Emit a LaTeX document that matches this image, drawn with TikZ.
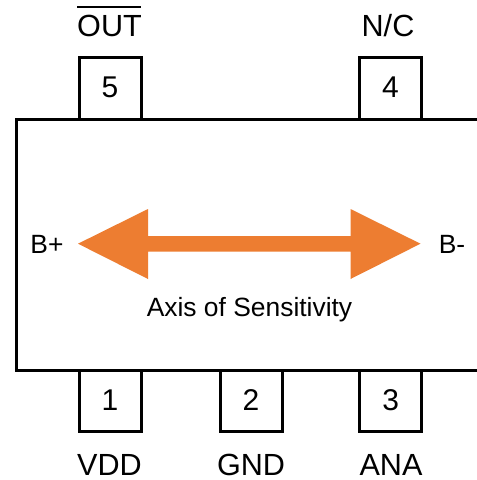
\documentclass[tikz,border=0pt]{standalone}
\usepackage{fontspec}
\setmainfont{Liberation Sans}
\definecolor{arrowc}{RGB}{237,125,49}
\begin{document}
\begin{tikzpicture}[x=1pt,y=-1pt,
  pinbox/.style={draw=black,line width=3pt,fill=white,minimum width=62pt,minimum height=62pt,inner sep=0pt,font=\fontsize{30pt}{32pt}\selectfont},
  lab/.style={inner sep=0pt,anchor=base,font=\fontsize{30.6pt}{34pt}\selectfont},
  small/.style={inner sep=0pt,anchor=base,font=\fontsize{26.4pt}{30pt}\selectfont}]
\useasboundingbox (0,0) rectangle (477,480);
\node[pinbox] (p5) at (110,88.2) {\raisebox{2pt}{5}};
\node[pinbox] (p4) at (390.5,88.2) {\raisebox{2pt}{4}};
\node[pinbox] (p1) at (110,400.8) {\raisebox{2pt}{1}};
\node[pinbox] (p2) at (251,400.8) {\raisebox{2pt}{2}};
\node[pinbox] (p3) at (390.7,400.8) {\raisebox{2pt}{3}};
\draw[line width=3pt,fill=white] (490,119.5) -- (16.5,119.5) -- (16.5,370) -- (490,370);
\fill[arrowc] (78,243.7) -- (148,209) -- (148,236) -- (350.5,236) -- (350.5,209) -- (420.5,243.7) -- (350.5,279) -- (350.5,251.7) -- (148,251.7) -- (148,279) -- cycle;
\node[lab] (out) at (109.5,36) {OUT};
\draw[line width=2pt] (77,6.7) -- (141,6.7);
\node[lab] (nc) at (388,36) {N/C};
\node[lab] (vdd) at (109.5,475) {VDD};
\node[lab] (gnd) at (251,475) {GND};
\node[lab] (ana) at (391,475) {ANA};
\node[small] (bp) at (47,253.3) {B+};
\node[small] (bm) at (452,253.3) {B-};
\node[small] (ax) at (249.5,316.7) {Axis of Sensitivity};
\end{tikzpicture}
\end{document}
